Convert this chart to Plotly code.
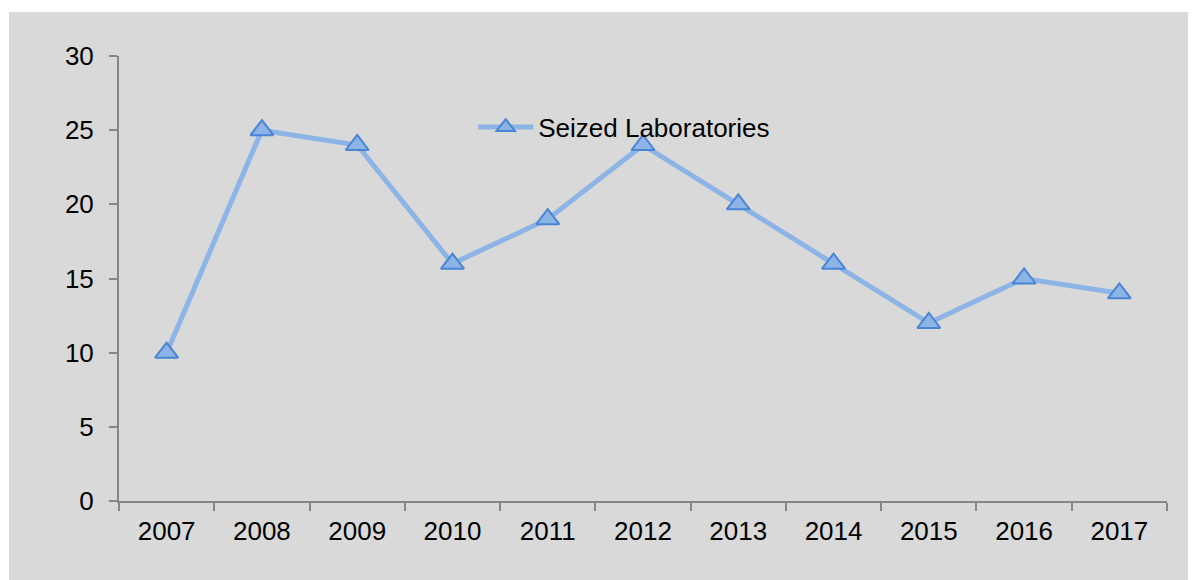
# ---------------- importing modules ----------------
import plotly.graph_objects as go

# ---------------- data ---------------------
years = ['2007', '2008', '2009', '2010', '2011', '2012',
         '2013', '2014', '2015', '2016', '2017']
seized_labs = [10, 25, 24, 16, 19, 24, 20, 16, 12, 15, 14]
y_ticks = [0, 5, 10, 15, 20, 25, 30]

# ---------------- figure ---------------------
trace0 = go.Scatter(x=years, y=seized_labs, name='Seized Laboratories',
                    mode='lines+markers',
                    line=dict(color='#8db4e6', width=5),
                    marker=dict(symbol='triangle-up', size=20, color='#8db4e6',
                                line=dict(color='#4a84d4', width=2)))

axis_col = '#868686'
# page body keeps its 8px margin, so the figure is sized a bit smaller than the window
layout = go.Layout(
    width=1188, height=572,
    margin=dict(l=111, r=29, t=48, b=79),
    paper_bgcolor='#d9d9d9', plot_bgcolor='#d9d9d9',
    font=dict(family='Liberation Sans, Arial', size=26, color='black'),
    showlegend=True,
    legend=dict(x=0.338, y=0.84, xanchor='left', yanchor='middle', itemwidth=55,
                bgcolor='rgba(0,0,0,0)', font=dict(size=26)),
    xaxis=dict(type='category', range=[-0.5, len(years) - 0.5], showgrid=False,
               showline=True, linecolor=axis_col, linewidth=2, ticks='outside',
               tickson='boundaries', ticklen=8, tickcolor=axis_col, tickwidth=2,
               zeroline=False, ticklabelstandoff=6),
    yaxis=dict(range=[0, 30], tickvals=y_ticks, showgrid=False, showline=True,
               linecolor=axis_col, linewidth=2, ticks='outside', ticklen=8,
               tickcolor=axis_col, tickwidth=2, zeroline=False, ticklabelstandoff=10),
    # a little extra white at the top and left edges
    shapes=[dict(type='rect', xref='paper', yref='paper', x0=-0.2, x1=1.1,
                 y0=1 + 44 / 445, y1=1.3, fillcolor='white', line=dict(width=0), layer='above'),
            dict(type='rect', xref='paper', yref='paper', x0=-0.2, x1=-110 / 1048,
                 y0=-0.3, y1=1.3, fillcolor='white', line=dict(width=0), layer='above')],
)

fig = go.Figure(data=[trace0], layout=layout)
fig.write_html('out.html')
